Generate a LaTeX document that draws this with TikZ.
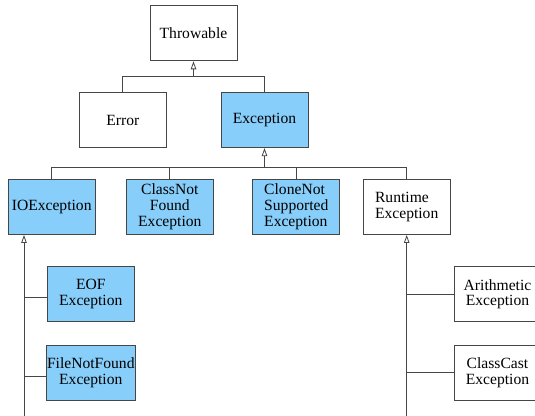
\documentclass[tikz,border=0pt]{standalone}
\usepackage{fontspec}
\setmainfont{Liberation Serif}
\usepackage{tikz}
\usetikzlibrary{arrows.meta, calc, positioning}
\definecolor{exblue}{RGB}{135,206,250}
\definecolor{edgegray}{RGB}{70,70,70}

\begin{document}
\begin{tikzpicture}[x=1pt, y=-1pt,
  cls/.style={draw=edgegray, line width=0.9pt, fill=white, minimum width=87pt, minimum height=55pt, inner sep=1pt, align=center, font=\fontsize{15.6}{15.8}\selectfont},
  chk/.style={cls, fill=exblue},
  link/.style={draw=edgegray, line width=0.8pt},
  isa/.style={link, -{Triangle[open, length=8pt, width=5.5pt]}}]
  \useasboundingbox (0,0) rectangle (535,415);
  \node[cls] (thr) at (193.5,33.3) {Throwable};
  \node[cls] (err) at (122.8,120.2) {Error};
  \node[chk] (exc) at (264.5,120.2) {Exception};
  \node[chk] (ioe) at (51.7,207) {IOException};
  \node[chk] (cnf) at (169.8,207) {ClassNot\\Found\\Exception};
  \node[chk, align=left] (cns) at (296.3,207) {CloneNot\\Supported\\Exception};
  \node[cls, align=left] (rte) at (406.7,207) {Runtime\\Exception};
  \node[chk] (eof) at (90.8,294.2) {EOF\\Exception};
  \node[chk] (fnf) at (90.8,372.8) {FileNotFound\\Exception};
  \node[cls] (ari) at (497.5,294.2) {Arithmetic\\Exception};
  \node[cls] (ccx) at (497.5,372.8) {ClassCast\\Exception};
  \coordinate (j1) at (193.5,76.7);
  \coordinate (j2) at (264.5,167.7);
  \coordinate (b1) at (24,416);
  \coordinate (b2) at (406.7,416);
  \draw[link] (err.north) |- (j1);
  \draw[link] (exc.north) |- (j1);
  \draw[isa] (j1) -- (thr.south);
  \foreach \n in {ioe,cnf,cns,rte}
    \draw[link] (\n.north) |- (j2);
  \draw[isa] (j2) -- (exc.south);
  \draw[isa] (b1) -- (b1 |- ioe.south);
  \draw[link] (b1 |- eof.west) ++(0,3.5) -- ([yshift=-3.5pt]eof.west);
  \draw[link] (b1 |- fnf.west) ++(0,3.5) -- ([yshift=-3.5pt]fnf.west);
  \draw[isa] (b2) -- (rte.south);
  \draw[link] (b2 |- ari.west) -- (ari.west);
  \draw[link] (b2 |- ccx.west) -- (ccx.west);
\end{tikzpicture}
\end{document}
